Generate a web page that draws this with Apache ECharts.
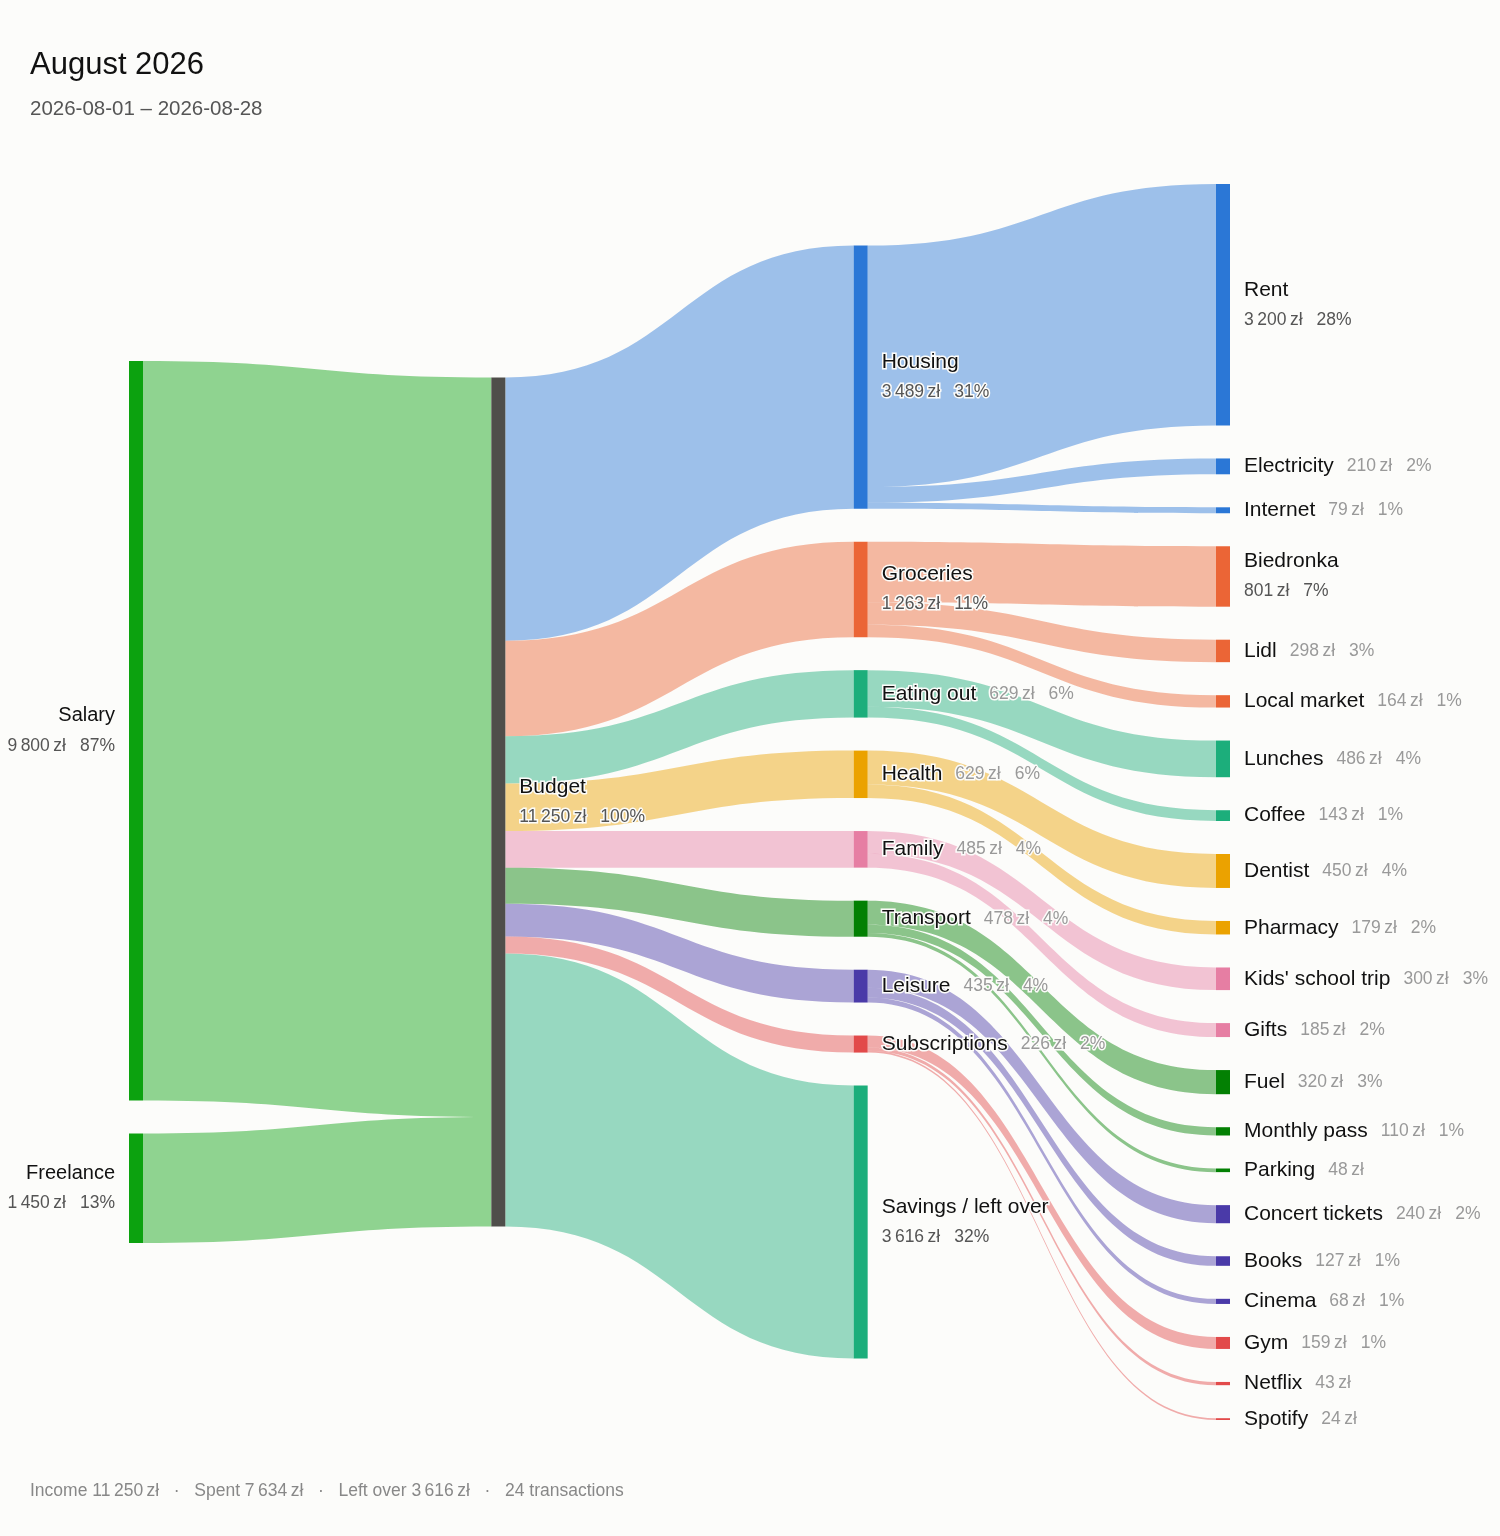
<!DOCTYPE html>
<html>
<head>
<meta charset="utf-8">
<script src="https://cdn.jsdelivr.net/npm/echarts@6/dist/echarts.min.js"></script>
<style>
html,body{margin:0;padding:0;background:#fcfcfa;}
#chart{width:1500px;height:1536px;}
</style>
</head>
<body>
<div id="chart"></div>
<script>
// ---- data ----
const incomeNames = ['Salary', 'Freelance'];
const incomeValues = [9800, 1450];
const hubName = 'Budget';
const categoryNames = ['Housing', 'Groceries', 'Eating out', 'Health', 'Family', 'Transport', 'Leisure', 'Subscriptions', 'Savings / left over'];
const categoryValues = [3489, 1263, 629, 629, 485, 478, 435, 226, 3616];
const itemNames = ['Rent', 'Electricity', 'Internet', 'Biedronka', 'Lidl', 'Local market', 'Lunches', 'Coffee', 'Dentist', 'Pharmacy', "Kids' school trip", 'Gifts', 'Fuel', 'Monthly pass', 'Parking', 'Concert tickets', 'Books', 'Cinema', 'Gym', 'Netflix', 'Spotify'];
const itemValues = [3200, 210, 79, 801, 298, 164, 486, 143, 450, 179, 300, 185, 320, 110, 48, 240, 127, 68, 159, 43, 24];
const itemParents = ['Housing', 'Housing', 'Housing', 'Groceries', 'Groceries', 'Groceries', 'Eating out', 'Eating out', 'Health', 'Health', 'Family', 'Family', 'Transport', 'Transport', 'Transport', 'Leisure', 'Leisure', 'Leisure', 'Subscriptions', 'Subscriptions', 'Subscriptions'];
const titleText = 'August 2026';
const subtitleText = '2026-08-01 – 2026-08-28';
const transactionCount = 24;

// ---- styles ----
const incomeColor = '#0ca20f';
const hubColor = '#4f4e4a';
const categoryColors = {
  'Housing': '#2b77d6', 'Groceries': '#eb6536', 'Eating out': '#1cae7b', 'Health': '#eba200',
  'Family': '#e67ea3', 'Transport': '#038003', 'Leisure': '#4a3aa8', 'Subscriptions': '#e24a4a',
  'Savings / left over': '#1cae7b'
};
const LINK_OPACITY = 0.45;
const SERIES_TOP = 184, SERIES_BOTTOM = 116, CHART_H = 1536;
const NODE_GAP = 33;
const LAYOUT_H = CHART_H - SERIES_TOP - SERIES_BOTTOM;

const sum = a => a.reduce((s, v) => s + v, 0);
const total = sum(incomeValues);
const spent = sum(categoryValues.slice(0, categoryValues.length - 1));
const leftOver = categoryValues[categoryValues.length - 1];

// vertical layout: each column centred, nodes kept in data order (same scale rule as ECharts)
const columns = [incomeValues, [total], categoryValues, itemValues];
const ky = Math.min(...columns.map(c => (LAYOUT_H - (c.length - 1) * NODE_GAP) / sum(c)));
function columnLocalY(vals) {
  const h = sum(vals) * ky + (vals.length - 1) * NODE_GAP;
  let y = (LAYOUT_H - h) / 2;
  return vals.map(v => { const r = y / LAYOUT_H; y += v * ky + NODE_GAP; return r; });
}
const colY = columns.map(columnLocalY);

function money(v) {
  return String(v).replace(/\B(?=(\d{3})+(?!\d))/g, '\u2009') + '\u2009zł';
}
function pctText(v) {
  const p = Math.round(v / total * 100);
  return p >= 1 ? p + '%' : '';
}
function labelFor(name, value, big, nameStyle) {
  const p = pctText(value);
  const ns = nameStyle || 'name';
  if (big) return '{' + ns + '|' + name + '}\n{val|' + money(value) + '}' + (p ? '{valp|' + p + '}' : '');
  return '{' + ns + '|' + name + '}{lite|' + money(value) + '}' + (p ? '{litep|' + p + '}' : '');
}
const BIG = 700;

const nodes = [];
const links = [];
incomeNames.forEach((n, i) => {
  nodes.push({
    name: n, value: incomeValues[i], localY: colY[0][i], itemStyle: { color: incomeColor },
    label: { position: 'left', formatter: labelFor(n, incomeValues[i], incomeValues[i] >= BIG, 'name0') }
  });
  links.push({ source: n, target: hubName, value: incomeValues[i], lineStyle: { color: incomeColor, opacity: LINK_OPACITY } });
});
nodes.push({ name: hubName, value: total, localY: colY[1][0], itemStyle: { color: hubColor }, label: { formatter: labelFor(hubName, total, true) } });
categoryNames.forEach((n, i) => {
  const c = categoryColors[n];
  nodes.push({ name: n, value: categoryValues[i], localY: colY[2][i], itemStyle: { color: c }, label: { formatter: labelFor(n, categoryValues[i], categoryValues[i] >= BIG) } });
  links.push({ source: hubName, target: n, value: categoryValues[i], lineStyle: { color: c, opacity: LINK_OPACITY } });
});
itemNames.forEach((n, i) => {
  const c = categoryColors[itemParents[i]];
  nodes.push({ name: n, value: itemValues[i], localY: colY[3][i], itemStyle: { color: c }, label: { formatter: labelFor(n, itemValues[i], itemValues[i] >= BIG) } });
  links.push({ source: itemParents[i], target: n, value: itemValues[i], lineStyle: { color: c, opacity: LINK_OPACITY } });
});

const FONT = '"Liberation Sans", Arial, Helvetica, sans-serif';
const halo = { textBorderColor: '#fcfcfa', textBorderWidth: 3 };
const VAL_FS = 17.5;
const chart = echarts.init(document.getElementById('chart'), null, { renderer: 'canvas' });
chart.setOption({
  backgroundColor: '#fcfcfa',
  animation: false,
  textStyle: { fontFamily: FONT },
  graphic: [{
    type: 'text', x: 30, y: 65,
    style: { text: titleText, font: '31px ' + FONT, fill: '#111', verticalAlign: 'middle' }
  }, {
    type: 'text', x: 30, y: 109,
    style: { text: subtitleText, font: '20.5px ' + FONT, fill: '#555', verticalAlign: 'middle' }
  }, {
    type: 'text', x: 30, y: 1491,
    style: {
      text: 'Income ' + money(total) + '   ·   Spent ' + money(spent) + '   ·   Left over ' + money(leftOver) + '   ·   ' + transactionCount + ' transactions',
      font: '17.5px ' + FONT, fill: '#888', verticalAlign: 'middle'
    }
  }],
  series: [{
    type: 'sankey',
    left: 129, right: 270, top: SERIES_TOP, bottom: SERIES_BOTTOM,
    nodeWidth: 14, nodeGap: NODE_GAP,
    nodeAlign: 'left',
    layoutIterations: 0,
    draggable: false,
    emphasis: { disabled: true },
    data: nodes,
    links: links,
    lineStyle: { curveness: 0.5 },
    label: {
      position: 'right', distance: 14,
      textBorderColor: '#fcfcfa', textBorderWidth: 3,
      rich: {
        name: Object.assign({ fontFamily: FONT, fontSize: 21, color: '#111', lineHeight: 30 }, halo),
        name0: Object.assign({ fontFamily: FONT, fontSize: 20, color: '#111', lineHeight: 30 }, halo),
        val: Object.assign({ fontFamily: FONT, fontSize: VAL_FS, color: '#555', lineHeight: 30 }, halo),
        valp: Object.assign({ fontFamily: FONT, fontSize: VAL_FS, color: '#555', lineHeight: 30, padding: [0, 0, 0, 14] }, halo),
        lite: Object.assign({ fontFamily: FONT, fontSize: VAL_FS, color: '#999', lineHeight: 30, padding: [0, 0, 0, 13] }, halo),
        litep: Object.assign({ fontFamily: FONT, fontSize: VAL_FS, color: '#999', lineHeight: 30, padding: [0, 0, 0, 14] }, halo)
      }
    }
  }]
});
</script>
</body>
</html>
